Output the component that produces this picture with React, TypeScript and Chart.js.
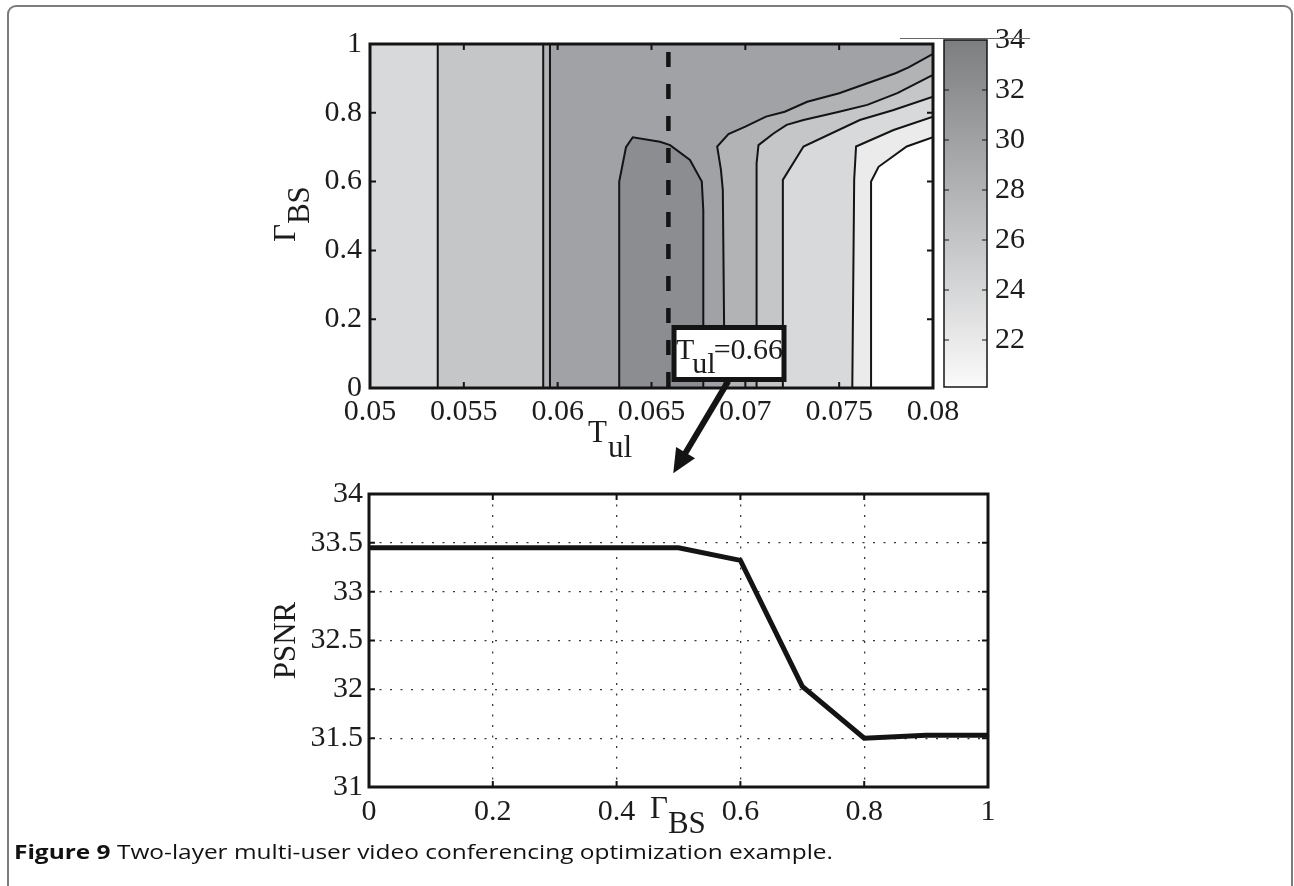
import React, { useEffect, useLayoutEffect, useRef } from "react";
import { Chart, registerables } from "chart.js";

Chart.register(...registerables);

// ---------------- Upper panel: PSNR contour over T_ul x Γ_BS ----------------
const T_UL_TICKS = [0.05, 0.055, 0.06, 0.065, 0.07, 0.075, 0.08];
const GAMMA_TICKS = [0, 0.2, 0.4, 0.6, 0.8, 1];
const T_UL_MIN = 0.05;
const T_UL_MAX = 0.08;

// straight (vertical) contour lines on the left part, T_ul values
const VLINE_A = 0.05361;
const VLINE_B = 0.05923;
const VLINE_C = 0.05959;

// contour lines on the right part, [T_ul, Γ_BS] from bottom to top
const CONTOUR_1: [number, number][] = [
  [0.0689, 0], [0.0688, 0.576], [0.0687, 0.634], [0.0685, 0.702], [0.0691, 0.738],
  [0.07, 0.76], [0.0711, 0.789], [0.0721, 0.803], [0.0733, 0.832], [0.075, 0.857],
  [0.078, 0.915], [0.0787, 0.932], [0.08, 0.971],
];
const CONTOUR_2: [number, number][] = [
  [0.0706, 0], [0.0706, 0.653], [0.0707, 0.706], [0.0715, 0.74], [0.0722, 0.765],
  [0.0731, 0.779], [0.075, 0.803], [0.0765, 0.823], [0.0781, 0.857], [0.08, 0.91],
];
const CONTOUR_3: [number, number][] = [
  [0.072, 0], [0.072, 0.605], [0.0731, 0.702], [0.0761, 0.779], [0.0779, 0.808], [0.08, 0.847],
];
const CONTOUR_4: [number, number][] = [
  [0.0757, 0], [0.0758, 0.605], [0.0759, 0.702], [0.0779, 0.75], [0.08, 0.789],
];
const CONTOUR_5: [number, number][] = [
  [0.0767, 0], [0.0767, 0.6], [0.0771, 0.643], [0.0786, 0.702], [0.08, 0.729],
];
// closed "island" of the highest level
const CONTOUR_TOP: [number, number][] = [
  [0.06328, 0], [0.06328, 0.6], [0.06364, 0.7], [0.064, 0.729], [0.06545, 0.716],
  [0.06599, 0.706], [0.06705, 0.663], [0.06768, 0.6], [0.06776, 0.517], [0.06776, 0],
];

// fill colours from the lowest filled level to the highest
const LEVEL_COLORS = ["#ebebec", "#d8d9db", "#c5c6c8", "#b2b3b5", "#a1a2a5", "#8c8d90"];

// optimum marker
const T_UL_OPT = 0.0659;
const OPT_LABEL_MAIN = "T";
const OPT_LABEL_SUB = "ul";
const OPT_LABEL_VALUE = "=0.66";

// colour bar
const CB_TICKS = [22, 24, 26, 28, 30, 32, 34];
const CB_MIN = 20.12;
const CB_MAX = 34;

// ---------------- Lower panel: PSNR vs Γ_BS at T_ul = 0.066 ----------------
const GAMMA_BS = [0, 0.1, 0.2, 0.3, 0.4, 0.5, 0.6, 0.7, 0.8, 0.9, 1.0];
const PSNR_VALUES = [33.45, 33.45, 33.45, 33.45, 33.45, 33.45, 33.32, 32.03, 31.5, 31.53, 31.53];
const PSNR_TICKS = [31, 31.5, 32, 32.5, 33, 33.5, 34];
const GAMMA_X_TICKS = [0, 0.2, 0.4, 0.6, 0.8, 1];

const CAPTION_BOLD = "Figure 9";
const CAPTION_TEXT = " Two-layer multi-user video conferencing optimization example.";

// ---------------- styling / layout ----------------
const SERIF = '"Liberation Serif", "Times New Roman", Times, serif';
const TXT = "#1c1c1c";
const INK = "#141414";
const TICK_FONT = { family: SERIF, size: 30 };

const fmt = (v: any) => String(parseFloat(Number(v).toFixed(4)));
const toPts = (arr: [number, number][]) => arr.map(([x, y]) => ({ x, y }));
const leftOf = (line: [number, number][], leftX: number) => [
  { x: leftX, y: 0 },
  ...toPts(line),
  { x: T_UL_MAX, y: 1 },
  { x: leftX, y: 1 },
];

function drawBoxAndTicks(chart: any, o: { len: number; box: number; tick: number; xTicks: boolean }) {
  const { ctx, chartArea: a, scales } = chart;
  ctx.save();
  ctx.strokeStyle = INK;
  ctx.lineWidth = o.tick;
  ctx.beginPath();
  if (o.xTicks && scales.x) {
    for (const t of scales.x.ticks) {
      const px = scales.x.getPixelForValue(t.value);
      if (px < a.left + 2 || px > a.right - 2) continue;
      ctx.moveTo(px, a.bottom);
      ctx.lineTo(px, a.bottom - o.len);
      ctx.moveTo(px, a.top);
      ctx.lineTo(px, a.top + o.len);
    }
  }
  if (scales.y) {
    for (const t of scales.y.ticks) {
      const py = scales.y.getPixelForValue(t.value);
      if (py < a.top + 2 || py > a.bottom - 2) continue;
      ctx.moveTo(a.left, py);
      ctx.lineTo(a.left + o.len, py);
      ctx.moveTo(a.right, py);
      ctx.lineTo(a.right - o.len, py);
    }
  }
  ctx.stroke();
  ctx.lineWidth = o.box;
  ctx.strokeRect(a.left, a.top, a.right - a.left, a.bottom - a.top);
  ctx.restore();
}

function subLabel(ctx: any, main: string, sub: string, x: number, y: number, subDy: number, mainDx = 0) {
  ctx.fillText(main, x, y);
  const w = ctx.measureText(main).width;
  ctx.fillText(sub, x + w + mainDx, y + subDy);
  return x + w + mainDx + ctx.measureText(sub).width;
}

export default function App() {
  const topRef = useRef<HTMLCanvasElement>(null);
  const cbRef = useRef<HTMLCanvasElement>(null);
  const botRef = useRef<HTMLCanvasElement>(null);

  useEffect(() => {
    const charts: Chart[] = [];

    // ---------- upper contour chart ----------
    const polys = [
      leftOf(CONTOUR_5, T_UL_MIN),
      leftOf(CONTOUR_4, T_UL_MIN),
      leftOf(CONTOUR_3, VLINE_A),
      leftOf(CONTOUR_2, VLINE_B),
      leftOf(CONTOUR_1, VLINE_C),
      toPts(CONTOUR_TOP),
    ];
    const fillSets = polys.map((p, i) => ({
      data: p,
      fill: "shape",
      backgroundColor: LEVEL_COLORS[i],
      borderColor: "rgba(0,0,0,0)",
      borderWidth: 0,
      pointRadius: 0,
      tension: 0,
      order: 30 - i,
    }));
    const lineSets = [
      [[VLINE_A, 0], [VLINE_A, 1]],
      [[VLINE_B, 0], [VLINE_B, 1]],
      [[VLINE_C, 0], [VLINE_C, 1]],
      CONTOUR_1, CONTOUR_2, CONTOUR_3, CONTOUR_4, CONTOUR_5, CONTOUR_TOP,
    ].map((l) => ({
      data: toPts(l as [number, number][]),
      fill: false,
      borderColor: INK,
      borderWidth: 2,
      pointRadius: 0,
      tension: 0,
      order: 10,
    }));
    const dashSet = {
      data: [{ x: T_UL_OPT, y: 1 }, { x: T_UL_OPT, y: 0 }],
      fill: false,
      borderColor: INK,
      borderWidth: 4.5,
      borderDash: [15, 17],
      borderDashOffset: 24,
      borderCapStyle: "butt",
      pointRadius: 0,
      order: 5,
    };

    const topPlugin = {
      id: "topDeco",
      afterDatasetsDraw(chart: any) {
        drawBoxAndTicks(chart, { len: 6, box: 3, tick: 2, xTicks: true });
      },
      afterDraw(chart: any) {
        const { ctx, chartArea: a, scales } = chart;
        const xs = scales.x, ys = scales.y;
        ctx.save();
        ctx.fillStyle = TXT;
        ctx.textBaseline = "alphabetic";
        ctx.textAlign = "left";
        ctx.font = `31px ${SERIF}`;
        // x title T_ul
        subLabel(ctx, "T", "ul", a.left + 218, a.bottom + 54, 15, 1);
        // y title Γ_BS (rotated)
        ctx.save();
        ctx.translate(a.left - 75, a.top + 198);
        ctx.rotate(-Math.PI / 2);
        subLabel(ctx, "Γ", "BS", 0, 0, 14, 0);
        ctx.restore();

        // annotation box
        const bx0 = xs.getPixelForValue(0.0662);
        const bx1 = xs.getPixelForValue(0.07206);
        const by0 = ys.getPixelForValue(0.1759);
        const by1 = ys.getPixelForValue(0.0247);
        ctx.fillStyle = "#ffffff";
        ctx.fillRect(bx0, by0, bx1 - bx0, by1 - by0);
        ctx.strokeStyle = INK;
        ctx.lineWidth = 5;
        ctx.strokeRect(bx0, by0, bx1 - bx0, by1 - by0);
        ctx.fillStyle = TXT;
        ctx.font = `30px ${SERIF}`;
        const after = subLabel(ctx, OPT_LABEL_MAIN, OPT_LABEL_SUB, bx0 + 2, by0 + 32, 14, -2);
        ctx.fillText(OPT_LABEL_VALUE, after - 2, by0 + 32);

        // arrow to the lower panel
        const ax0 = xs.getPixelForValue(0.06909);
        const ay0 = ys.getPixelForValue(0.02);
        const ax1 = xs.getPixelForValue(0.06616);
        const ay1 = ys.getPixelForValue(-0.248);
        const dx = ax1 - ax0, dy = ay1 - ay0;
        const len = Math.hypot(dx, dy);
        const ux = dx / len, uy = dy / len;
        const hl = 24, hw = 11;
        const bxm = ax1 - ux * hl, bym = ay1 - uy * hl;
        ctx.strokeStyle = INK;
        ctx.lineWidth = 6;
        ctx.lineCap = "butt";
        ctx.beginPath();
        ctx.moveTo(ax0, ay0);
        ctx.lineTo(bxm + ux * 2, bym + uy * 2);
        ctx.stroke();
        ctx.fillStyle = INK;
        ctx.beginPath();
        ctx.moveTo(ax1, ay1);
        ctx.lineTo(bxm - uy * hw, bym + ux * hw);
        ctx.lineTo(bxm + uy * hw, bym - ux * hw);
        ctx.closePath();
        ctx.fill();
        ctx.restore();
      },
    };

    if (topRef.current) {
      charts.push(
        new Chart(topRef.current, {
          type: "line",
          data: { datasets: [...fillSets, ...lineSets, dashSet] as any },
          options: {
            responsive: false,
            animation: false,
            events: [],
            layout: { padding: { top: 44, right: 361, bottom: 0, left: 0 } },
            plugins: { legend: { display: false }, tooltip: { enabled: false } },
            scales: {
              x: {
                type: "linear",
                min: T_UL_MIN,
                max: T_UL_MAX,
                afterBuildTicks: (s: any) => { s.ticks = T_UL_TICKS.map((v) => ({ value: v })); },
                afterFit: (s: any) => { s.height = 92; },
                grid: { display: false, drawTicks: false },
                border: { display: false },
                ticks: { font: TICK_FONT, color: TXT, padding: 6, maxRotation: 0, autoSkip: false, callback: fmt },
              },
              y: {
                type: "linear",
                min: 0,
                max: 1,
                afterBuildTicks: (s: any) => { s.ticks = GAMMA_TICKS.map((v) => ({ value: v })); },
                afterFit: (s: any) => { s.width = 370; },
                grid: { display: false, drawTicks: false },
                border: { display: false },
                ticks: { font: TICK_FONT, color: TXT, padding: 8, autoSkip: false, callback: fmt },
              },
            },
          } as any,
          plugins: [topPlugin],
        })
      );
    }

    // ---------- colour bar ----------
    const cbPlugin = {
      id: "cbDeco",
      afterDatasetsDraw(chart: any) {
        drawBoxAndTicks(chart, { len: 5, box: 1.5, tick: 1.2, xTicks: false });
      },
      afterDraw(chart: any) {
        const { ctx, chartArea: a } = chart;
        ctx.save();
        ctx.strokeStyle = "#666";
        ctx.lineWidth = 1;
        ctx.beginPath();
        ctx.moveTo(0, a.top - 1.5);
        ctx.lineTo(130, a.top - 1.5);
        ctx.stroke();
        ctx.restore();
      },
    };
    if (cbRef.current) {
      charts.push(
        new Chart(cbRef.current, {
          type: "bar",
          data: {
            labels: [""],
            datasets: [
              {
                data: [[CB_MIN, CB_MAX]] as any,
                barPercentage: 1,
                categoryPercentage: 1,
                borderWidth: 0,
                backgroundColor: (c: any) => {
                  const { chart } = c;
                  const area = chart.chartArea;
                  if (!area) return "#bbbbbb";
                  const g = chart.ctx.createLinearGradient(0, area.top, 0, area.bottom);
                  g.addColorStop(0, "#7d7e80");
                  g.addColorStop(0.5, "#babbbd");
                  g.addColorStop(1, "#fafafa");
                  return g;
                },
              },
            ],
          },
          options: {
            responsive: false,
            animation: false,
            events: [],
            layout: { padding: { top: 40, right: 0, bottom: 93, left: 44 } },
            plugins: { legend: { display: false }, tooltip: { enabled: false } },
            scales: {
              x: { display: false },
              y: {
                position: "right",
                min: CB_MIN,
                max: CB_MAX,
                afterBuildTicks: (s: any) => { s.ticks = CB_TICKS.map((v) => ({ value: v })); },
                afterFit: (s: any) => { s.width = 113; },
                grid: { display: false, drawTicks: false },
                border: { display: false },
                ticks: { font: TICK_FONT, color: TXT, padding: 8, autoSkip: false, callback: fmt },
              },
            },
          } as any,
          plugins: [cbPlugin],
        })
      );
    }

    // ---------- lower line chart ----------
    const botPlugin = {
      id: "botDeco",
      afterDatasetsDraw(chart: any) {
        drawBoxAndTicks(chart, { len: 6, box: 3, tick: 2, xTicks: true });
      },
      afterDraw(chart: any) {
        const { ctx, chartArea: a } = chart;
        ctx.save();
        ctx.fillStyle = TXT;
        ctx.font = `31px ${SERIF}`;
        ctx.textBaseline = "alphabetic";
        // y title
        ctx.save();
        ctx.translate(a.left - 74, (a.top + a.bottom) / 2);
        ctx.rotate(-Math.PI / 2);
        ctx.textAlign = "center";
        ctx.fillText("PSNR", 0, 0);
        ctx.restore();
        // x title Γ_BS
        ctx.textAlign = "left";
        subLabel(ctx, "Γ", "BS", a.left + 281, a.bottom + 31, 15, 0);
        ctx.restore();
      },
    };
    if (botRef.current) {
      charts.push(
        new Chart(botRef.current, {
          type: "line",
          data: {
            datasets: [
              {
                data: GAMMA_BS.map((x, i) => ({ x, y: PSNR_VALUES[i] })),
                borderColor: INK,
                borderWidth: 5,
                borderJoinStyle: "miter",
                pointRadius: 0,
                fill: false,
                tension: 0,
              },
            ],
          },
          options: {
            responsive: false,
            animation: false,
            events: [],
            layout: { padding: { top: 24, right: 306, bottom: 0, left: 0 } },
            plugins: { legend: { display: false }, tooltip: { enabled: false } },
            scales: {
              x: {
                type: "linear",
                min: 0,
                max: 1,
                afterBuildTicks: (s: any) => { s.ticks = GAMMA_X_TICKS.map((v) => ({ value: v })); },
                afterFit: (s: any) => { s.height = 99; },
                grid: { display: true, color: "#3a3a3a", lineWidth: 1.3, drawTicks: false },
                border: { display: false, dash: [2, 8.5] },
                ticks: { font: TICK_FONT, color: TXT, padding: 7, maxRotation: 0, autoSkip: false, callback: fmt },
              },
              y: {
                type: "linear",
                min: 31,
                max: 34,
                afterBuildTicks: (s: any) => { s.ticks = PSNR_TICKS.map((v) => ({ value: v })); },
                afterFit: (s: any) => { s.width = 369; },
                grid: { display: true, color: "#3a3a3a", lineWidth: 1.3, drawTicks: false },
                border: { display: false, dash: [2, 8.5] },
                ticks: { font: TICK_FONT, color: TXT, padding: 6, autoSkip: false, callback: fmt },
              },
            },
          } as any,
          plugins: [botPlugin],
        })
      );
    }

    return () => charts.forEach((c) => c.destroy());
  }, []);

  const capRef = useRef<HTMLDivElement>(null);
  useLayoutEffect(() => {
    const el = capRef.current;
    if (!el) return;
    el.style.transform = "none";
    const w = el.getBoundingClientRect().width;
    if (w > 0) el.style.transform = `scaleX(${819 / w})`;
  }, []);

  return (
    <div style={{ position: "absolute", left: 0, top: 0, width: 1294, height: 886, overflow: "hidden", background: "#fff" }}>
      <div
        style={{
          position: "absolute", left: 7, top: 5, width: 1286, height: 881, boxSizing: "border-box",
          border: "2px solid #7c7c7c", borderBottom: "none", borderRadius: "9px 9px 0 0",
        }}
      />
      <canvas ref={botRef} width={1294} height={416} style={{ position: "absolute", left: 0, top: 470, width: 1294, height: 416 }} />
      <canvas ref={cbRef} width={200} height={480} style={{ position: "absolute", left: 900, top: 0, width: 200, height: 480 }} />
      <canvas ref={topRef} width={1294} height={480} style={{ position: "absolute", left: 0, top: 0, width: 1294, height: 480 }} />
      <div
        ref={capRef}
        style={{
          position: "absolute", left: 14, top: 840, whiteSpace: "nowrap", display: "inline-block",
          transformOrigin: "0 0", font: '20px "Open Sans", "Noto Sans", sans-serif', color: "#111",
          lineHeight: "24px",
        }}
      >
        <b style={{ fontWeight: 700 }}>{CAPTION_BOLD}</b>
        {CAPTION_TEXT}
      </div>
    </div>
  );
}
